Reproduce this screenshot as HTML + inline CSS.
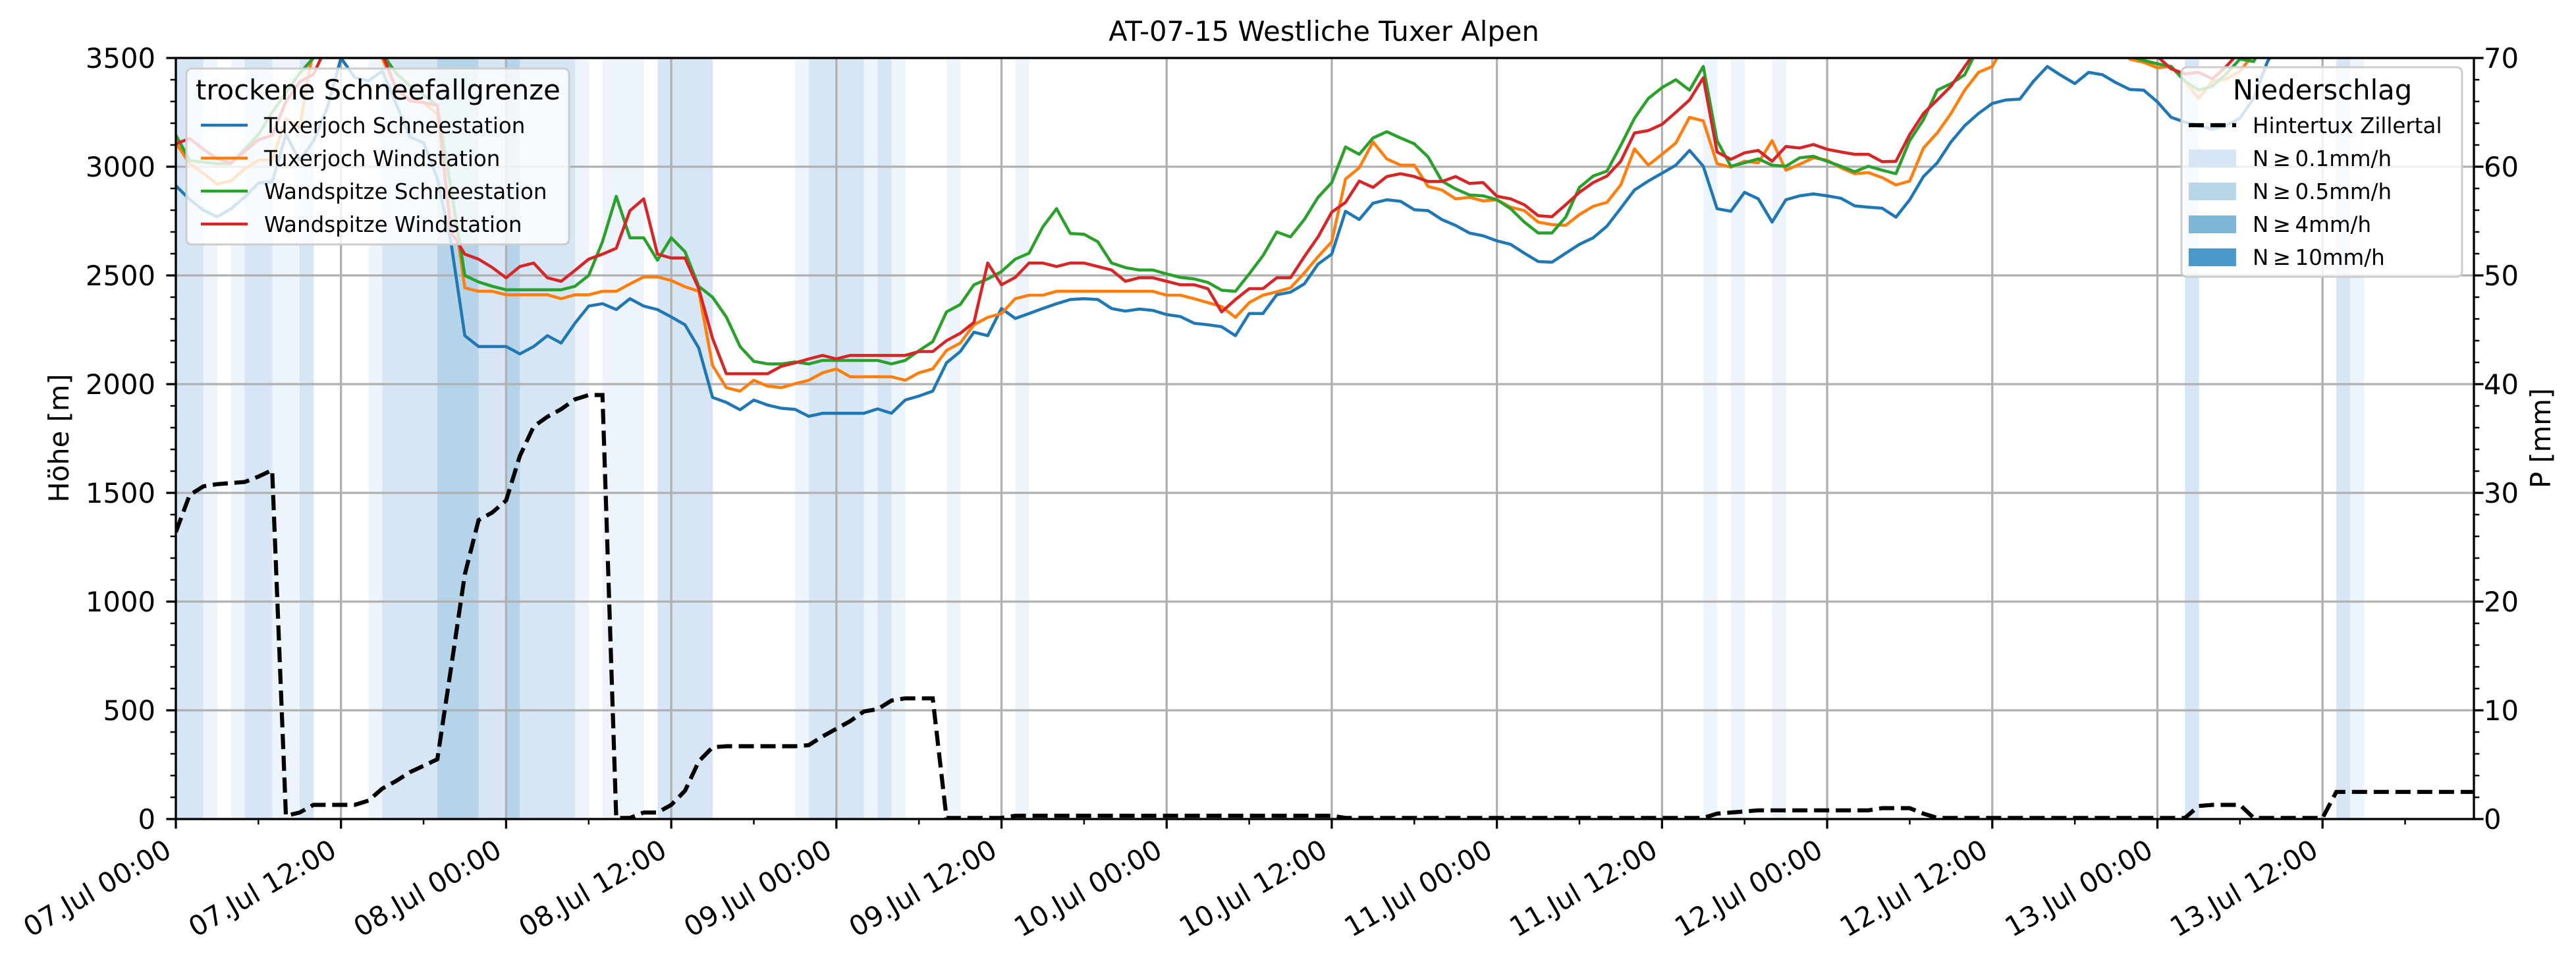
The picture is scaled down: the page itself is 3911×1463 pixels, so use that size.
<!DOCTYPE html>
<html><head><meta charset="utf-8"><style>
html,body{margin:0;padding:0;background:#fff;}
svg{display:block;font-family:"DejaVu Sans","Liberation Sans",sans-serif;}
</style></head><body>
<svg id="chart" width="3911" height="1463" viewBox="0 0 3911 1463" xmlns="http://www.w3.org/2000/svg">
<defs><clipPath id="plotclip"><rect x="267" y="88" width="3489" height="1155"/></clipPath></defs>
<rect x="0" y="0" width="3911" height="1463" fill="#fff"/>
<g id="bands" clip-path="url(#plotclip)"></g>
<g id="grid"></g>
<g id="lines" clip-path="url(#plotclip)"></g>
<g id="legend1"></g>
<g id="dashed" clip-path="url(#plotclip)"></g>
<g id="legend2"></g>
<g id="axes"></g>
<text x="2010" y="62" font-size="41.7" text-anchor="middle">AT-07-15 Westliche Tuxer Alpen</text>
<text transform="translate(104,665) rotate(-90)" font-size="41.7" text-anchor="middle">Höhe [m]</text>
<text transform="translate(3872,665) rotate(-90)" font-size="41.7" text-anchor="middle">P [mm]</text>
</svg>
<script>
const xTickLabels = ["07.Jul 00:00","07.Jul 12:00","08.Jul 00:00","08.Jul 12:00","09.Jul 00:00","09.Jul 12:00","10.Jul 00:00","10.Jul 12:00","11.Jul 00:00","11.Jul 12:00","12.Jul 00:00","12.Jul 12:00","13.Jul 00:00","13.Jul 12:00"];
const yTicks = [0,500,1000,1500,2000,2500,3000,3500];
const y2Ticks = [0,10,20,30,40,50,60,70];
const seriesNames = ["Tuxerjoch Schneestation","Tuxerjoch Windstation","Wandspitze Schneestation","Wandspitze Windstation"];
const tuxSchnee = [2912,2850,2800,2770,2806,2860,2925,2930,3148,3027,3118,3270,3500,3410,3395,3440,3290,3137,3110,2945,2650,
2223,2173,2173,2173,2139,2173,2223,2189,2280,2359,2370,2343,2393,2359,2343,2309,2273,2166,1939,1916,1882,1927,1904,
1889,1884,1852,1866,1866,1866,1866,1886,1866,1927,1945,1968,2098,2150,2239,2223,2348,2302,2325,2348,2370,2389,2393,2389,2348,2336,2345,2339,2320,2311,2280,2273,2264,2223,2325,2325,2411,2423,2461,2552,2598,
2795,2757,2832,2848,2841,2802,2798,2757,2730,2695,2682,2659,2643,2602,2564,2561,2602,2643,2673,2727,2809,2893,2934,2970,3007,3075,3002,2807,2795,2882,2852,2745,2848,2866,2875,2866,2855,2820,2814,2809,2768,2848,
2955,3018,3114,3189,3245,3291,3307,3311,3393,3461,3420,3382,3434,3423,3386,3355,3352,3298,3227,3205,3189,3173,3189,3223,3314,3484,
3580,3650,3700,3720,3720,3720,3720,3720,3720,3720,3720,3720,3600,3560,3520];
const tuxWind = [3110,3014,2970,2920,2935,2990,3030,3030,3220,3180,3550,3650,3680,3650,3600,3500,3360,3310,3295,3240,2900,
2443,2427,2427,2411,2411,2411,2411,2393,2411,2411,2427,2427,2461,2493,2493,2477,2448,2427,2086,1984,1968,2018,1991,
1984,2002,2018,2052,2070,2034,2034,2034,2034,2018,2052,2070,2155,2189,2273,2307,2325,2393,2409,2409,2427,2427,2427,2427,2427,2427,2427,2427,2409,2409,2393,2375,2357,2307,2375,2409,2425,2443,2511,2586,2655,
2943,2995,3114,3036,3007,3007,2909,2893,2852,2859,2843,2848,2814,2798,2745,2734,2730,2780,2818,2836,2916,3082,3007,3057,3109,3227,3211,3014,2998,3025,3018,3120,2984,3011,3041,3030,2995,2968,2973,2950,2916,2934,
3086,3155,3245,3352,3434,3461,3575,3650,3680,3700,3700,3700,3680,3650,3560,3495,3480,3455,3461,3393,3314,3393,3404,3439,3518,3600,
3700,3700,3700,3700,3700,3700,3700,3700,3700,3700,3700,3700,3700,3700,3700];
const wanSchnee = [3145,3030,3020,3014,3014,3080,3148,3250,3340,3430,3500,3620,3700,3700,3650,3520,3430,3372,3330,3280,2900,
2500,2470,2450,2434,2434,2434,2434,2434,2450,2500,2655,2864,2673,2673,2570,2673,2609,2450,2400,2309,2173,2105,2093,
2093,2102,2093,2109,2109,2109,2109,2109,2093,2109,2154,2195,2332,2366,2457,2484,2518,2575,2602,2723,2807,2693,2689,2655,2557,2536,2525,2525,2507,2491,2484,2468,2432,2427,2507,2591,2700,2677,2757,2859,2927,
3091,3057,3132,3161,3132,3105,3045,2934,2898,2870,2866,2848,2807,2745,2695,2695,2768,2905,2957,2980,3098,3223,3314,3364,3400,3352,3461,3120,3002,3018,3036,3007,3002,3041,3048,3025,3002,2977,3002,2984,2968,3120,
3216,3352,3382,3423,3550,3650,3700,3700,3700,3700,3700,3700,3680,3600,3530,3507,3489,3473,3461,3393,3352,3370,3427,3495,3484,3600,
3700,3700,3700,3700,3700,3700,3700,3700,3700,3700,3700,3700,3700,3700,3700];
const wanWind = [3105,3130,3080,3037,3016,3070,3124,3145,3300,3390,3425,3560,3650,3650,3600,3520,3360,3303,3295,3282,2700,
2598,2575,2536,2489,2541,2557,2489,2473,2523,2575,2598,2625,2798,2852,2598,2580,2580,2439,2211,2048,2048,2048,2048,
2082,2098,2116,2132,2116,2132,2132,2132,2132,2132,2150,2150,2200,2234,2284,2557,2457,2491,2557,2557,2541,2557,2557,2541,2525,2473,2489,2489,2473,2457,2457,2439,2332,2389,2439,2439,2489,2489,2586,2677,2791,
2836,2934,2905,2955,2968,2955,2932,2932,2955,2923,2927,2864,2852,2825,2775,2770,2825,2882,2927,2957,3025,3155,3166,3195,3250,3307,3409,3068,3034,3064,3075,3025,3093,3086,3102,3080,3068,3057,3057,3023,3025,3148,
3245,3307,3370,3461,3550,3650,3700,3700,3700,3700,3700,3700,3680,3600,3540,3530,3530,3507,3450,3427,3434,3404,3461,3530,3600,3650,
3700,3700,3700,3700,3700,3700,3700,3700,3700,3700,3700,3700,3700,3700,3700];
const precipMm = [26.4,29.8,30.6,30.8,30.9,31.0,31.5,32.1,0.3,0.6,1.3,1.3,1.3,1.3,1.7,2.8,3.5,4.3,4.9,5.5,13.9,22.5,27.5,28.2,29.3,33.4,36.1,37.0,37.7,38.6,39.0,39.0,
0.1,0.1,0.6,0.6,1.3,2.6,5.3,6.6,6.7,6.7,6.7,6.7,6.7,6.7,6.8,7.6,8.3,9.0,9.9,10.1,10.9,11.1,11.1,11.1,
0.1,0.1,0.1,0.1,0.1,0.3,0.3,0.3,0.3,0.3,0.3,0.3,0.3,0.3,0.3,0.3,0.3,0.3,0.3,0.3,0.3,0.3,0.3,0.3,0.3,0.3,0.3,0.3,0.3,
0.1,0.1,0.1,0.1,0.1,0.1,0.1,0.1,0.1,0.1,0.1,0.1,0.1,0.1,0.1,0.1,0.1,0.1,0.1,0.1,0.1,0.1,0.1,0.1,0.1,0.1,0.1,
0.5,0.6,0.7,0.8,0.8,0.8,0.8,0.8,0.8,0.8,0.8,0.8,1.0,1.0,1.0,0.5,
0.1,0.1,0.1,0.1,0.1,0.1,0.1,0.1,0.1,0.1,0.1,0.1,0.1,0.1,0.1,0.1,0.1,0.1,0.1,
1.2,1.3,1.3,1.3,0.1,0.1,0.1,0.1,0.1,0.1,2.5,2.5,2.5,2.5,2.5,2.5,2.5,2.5,2.5,2.5,2.5];
const bandHours = [0,1,2,4,5,6,7,8,9,14,15,16,17,18,19,20,21,22,23,24,25,26,27,28,29,31,32,33,35,36,37,38,45,46,47,48,49,50,51,52,56,61,111,113,116,146,157,158];
const bandLevel = [2,2,1,1,2,2,1,1,2,1,2,2,2,2,3,3,3,2,2,3,2,2,2,2,1,1,1,1,2,2,2,2,1,2,2,2,2,1,2,1,1,1,1,1,1,2,2,1];
const legendLabels2 = ["Hintertux Zillertal","N\u2009\u2265\u20090.1mm/h","N\u2009\u2265\u20090.5mm/h","N\u2009\u2265\u20094mm/h","N\u2009\u2265\u200910mm/h"];

const NS = "http://www.w3.org/2000/svg";
const L = 267, R = 3756, T = 88, B = 1243, NH = 167;
const xS = h => L + (R - L) * h / NH;
const yS = m => B - (B - T) * m / 3500;
const y2S = p => B - (B - T) * p / 70;
function mk(parent, tag, attrs) {
  const e = document.createElementNS(NS, tag);
  for (const k in attrs) e.setAttribute(k, attrs[k]);
  parent.appendChild(e);
  return e;
}
const bandColors = ["#fff", "#eef4fb", "#d6e6f4", "#b6d4e9", "#7fb6d7", "#4b98ca"];
const gB = document.getElementById('bands');
bandHours.forEach((h, i) => {
  const r = mk(gB, 'rect', {x: xS(h), y: T, width: xS(h + 1) - xS(h) + 0.5, height: B - T, fill: bandColors[bandLevel[i]]});
  
  
});
const gG = document.getElementById('grid');
xTickLabels.forEach((lab, i) => {
  const l = mk(gG, 'line', {x1: xS(i * 12), x2: xS(i * 12), y1: T, y2: B, stroke: '#b0b0b0', 'stroke-width': 3.3});
  
  
});
yTicks.forEach(v => {
  const l = mk(gG, 'line', {x1: L, x2: R, y1: yS(v), y2: yS(v), stroke: '#b0b0b0', 'stroke-width': 3.3});
  
  
});
const colors = ["#1f77b4", "#ff7f0e", "#2ca02c", "#d62728"];
const allSeries = [tuxSchnee, tuxWind, wanSchnee, wanWind];
const gL = document.getElementById('lines');
allSeries.forEach((s, si) => {
  const d = s.map((v, h) => (h ? 'L' : 'M') + xS(h).toFixed(1) + ',' + yS(v).toFixed(1)).join(' ');
  const p = mk(gL, 'path', {d: d, fill: 'none', stroke: colors[si], 'stroke-width': 4.6, 'stroke-linejoin': 'round'});
  
  
});
const gD = document.getElementById('dashed');
const dd = precipMm.map((v, h) => (h ? 'L' : 'M') + xS(h).toFixed(1) + ',' + y2S(v).toFixed(1)).join(' ');
const dp = mk(gD, 'path', {d: dd, fill: 'none', stroke: '#000', 'stroke-width': 6.2, 'stroke-dasharray': '23,10'});



// Legend 1
const g1 = document.getElementById('legend1');
const b1 = mk(g1, 'rect', {x: 283, y: 104, width: 581, height: 267, rx: 8, fill: 'rgba(255,255,255,0.8)', stroke: '#cccccc', 'stroke-width': 3});


const t1 = mk(g1, 'text', {x: 297, y: 151, 'font-size': 41.7});
t1.textContent = 'trockene Schneefallgrenze';


seriesNames.forEach((n, i) => {
  const yy = 190 + i * 50;
  const hl = mk(g1, 'line', {x1: 305, x2: 376, y1: yy, y2: yy, stroke: colors[i], 'stroke-width': 4.6});
  
  
  const tx = mk(g1, 'text', {x: 401, y: yy + 12, 'font-size': 32.5});
  tx.textContent = n;
  
  
});
// Legend 2
const g2 = document.getElementById('legend2');
const b2 = mk(g2, 'rect', {x: 3312, y: 102, width: 426, height: 318, rx: 8, fill: 'rgba(255,255,255,0.8)', stroke: '#cccccc', 'stroke-width': 3});


const t2 = mk(g2, 'text', {x: 3526, y: 151, 'font-size': 41.7, 'text-anchor': 'middle'});
t2.textContent = 'Niederschlag';


legendLabels2.forEach((n, i) => {
  const yy = 190 + i * 50;
  if (i === 0) {
    const hl = mk(g2, 'line', {x1: 3323, x2: 3395, y1: yy, y2: yy, stroke: '#000', 'stroke-width': 6.2, 'stroke-dasharray': '23,10'});
    
    
  } else {
    const hr = mk(g2, 'rect', {x: 3323, y: yy - 13, width: 72, height: 27, fill: ["#d6e6f4", "#b8d5ea", "#7fb6d7", "#4b98ca"][i - 1]});
    
    
  }
  const tx = mk(g2, 'text', {x: 3420, y: yy + 12, 'font-size': 32.5});
  tx.textContent = n;
  
  
});
// Axes
const gA = document.getElementById('axes');
const fr = mk(gA, 'rect', {x: L, y: T, width: R - L, height: B - T, fill: 'none', stroke: '#000', 'stroke-width': 3.3});


for (let v = 0; v <= 3500; v += 100) {
  const major = v % 500 === 0;
  const tk = mk(gA, 'line', {x1: L, x2: L - (major ? 14.6 : 8.3), y1: yS(v), y2: yS(v), stroke: '#000', 'stroke-width': major ? 3.3 : 2.5});
  
  
}
yTicks.forEach(v => {
  const tx = mk(gA, 'text', {x: 236, y: yS(v) + 15, 'font-size': 41.7, 'text-anchor': 'end'});
  tx.textContent = v;
  
  
});
for (let v = 0; v <= 70; v += 2) {
  const major = v % 10 === 0;
  const tk = mk(gA, 'line', {x1: R, x2: R + (major ? 14.6 : 8.3), y1: y2S(v), y2: y2S(v), stroke: '#000', 'stroke-width': major ? 3.3 : 2.5});
  
  
}
y2Ticks.forEach(v => {
  const tx = mk(gA, 'text', {x: 3771, y: y2S(v) + 15, 'font-size': 41.7});
  tx.textContent = v;
  
  
});
for (let h = 0; h <= NH; h += 6) {
  const major = h % 12 === 0;
  const tk = mk(gA, 'line', {x1: xS(h), x2: xS(h), y1: B, y2: B + (major ? 14.6 : 8.3), stroke: '#000', 'stroke-width': major ? 3.3 : 2.5});
  
  
}
xTickLabels.forEach((lab, i) => {
  const x = xS(i * 12) - 4, y = 1298;
  const tx = mk(gA, 'text', {x: x, y: y, 'font-size': 41.7, 'text-anchor': 'end', transform: 'rotate(-30 ' + x + ' ' + y + ')'});
  tx.textContent = lab;
  
  
});
</script>
</body></html>
